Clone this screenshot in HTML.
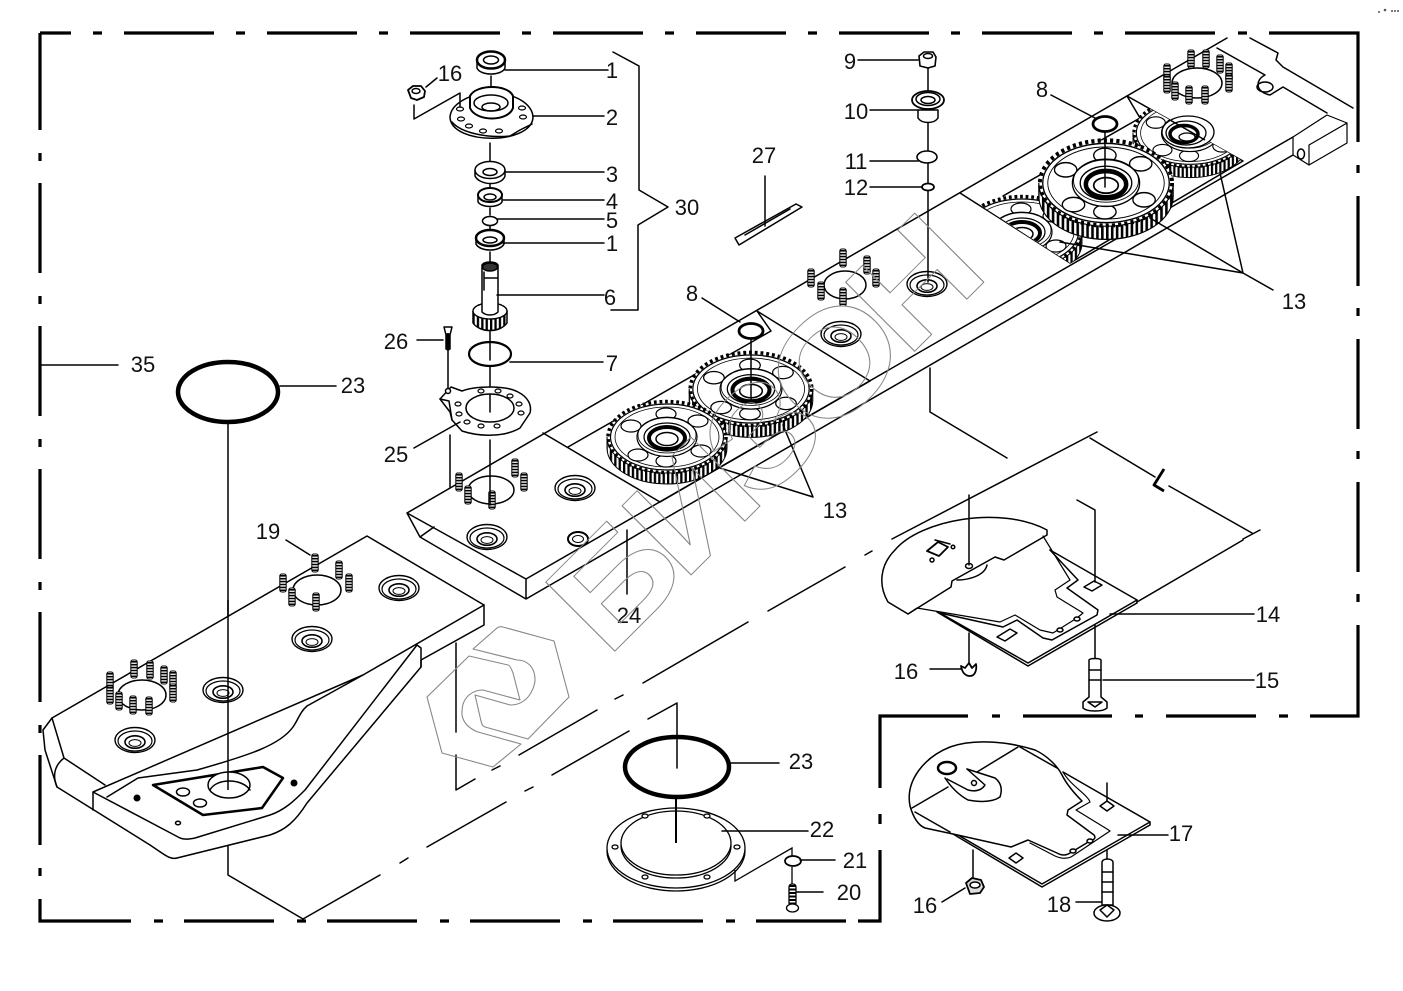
<!DOCTYPE html>
<html><head><meta charset="utf-8"><style>html,body{margin:0;padding:0;background:#fff}svg{display:block}text{font-family:"Liberation Sans",sans-serif;font-size:22px;fill:#111;text-anchor:middle}</style></head><body>
<svg width="1403" height="991" viewBox="0 0 1403 991" xmlns="http://www.w3.org/2000/svg">
<defs>
<pattern id="st" width="4.4" height="10" patternUnits="userSpaceOnUse"><rect width="4.4" height="10" fill="#fff"/><rect width="2.3" height="10" fill="#000"/></pattern>
<g id="s"><rect x="-3.2" y="-9" width="6.4" height="18" rx="2" fill="#fff" stroke="#000"/><line x1="0" y1="-8" x2="0" y2="8" stroke="#000" stroke-width="6" stroke-dasharray="1.6 1.3"/></g>
<g id="b"><ellipse rx="20" ry="12.5" fill="#fff" stroke="#000" stroke-width="1.4"/><ellipse cy="1" rx="17" ry="10" fill="none" stroke="#000" stroke-width="1.2"/><ellipse cy="2" rx="10" ry="6.2" fill="#fff" stroke="#000" stroke-width="1.6"/><ellipse cy="3" rx="6" ry="3.4" fill="#fff" stroke="#000" stroke-width="1"/></g>
<g id="g">
<path d="M-60,0 A60,36 0 0 0 60,0 L60,11 A60,36 0 0 1 -60,11 Z" fill="url(#st)" stroke="#000" stroke-width="1"/>
<ellipse rx="59" ry="35.5" fill="#fff" stroke="#000" stroke-width="3.5" stroke-dasharray="2.8 2.8"/>
<ellipse rx="56.500" ry="33" fill="#fff" stroke="#000" stroke-width="1.2"/>
<ellipse rx="52" ry="30" fill="none" stroke="#000" stroke-width=".8"/>
<ellipse cx="-36" cy="-11" rx="10" ry="6" fill="#fff" stroke="#000" stroke-width="1.2"/><ellipse cx="-1" cy="-23" rx="10" ry="6" fill="#fff" stroke="#000" stroke-width="1.2"/><ellipse cx="31" cy="-16" rx="10" ry="6" fill="#fff" stroke="#000" stroke-width="1.2"/><ellipse cx="34" cy="14" rx="10" ry="6" fill="#fff" stroke="#000" stroke-width="1.2"/><ellipse cx="-1" cy="24" rx="10" ry="6" fill="#fff" stroke="#000" stroke-width="1.2"/><ellipse cx="-29" cy="18" rx="10" ry="6" fill="#fff" stroke="#000" stroke-width="1.2"/>
<ellipse rx="30" ry="19.5" fill="#fff" stroke="#000" stroke-width="1.2"/><ellipse cy="-2" rx="29" ry="18" fill="none" stroke="#000" stroke-width=".8"/>
<ellipse rx="23" ry="14" fill="#fff" stroke="#000" stroke-width="1.2"/><ellipse cy="1" rx="18" ry="11" fill="none" stroke="#000" stroke-width="4"/><ellipse cy="2" rx="11" ry="6.5" fill="#fff" stroke="#000" stroke-width="1.5"/>
</g>
<clipPath id="c4"><polygon points="960,192 1070,263 1090,252 1090,180 1000,180"/></clipPath>
<clipPath id="c5"><polygon points="1127,96 1243,161 1100,245 1100,110"/></clipPath>
</defs>
<rect width="1403" height="991" fill="#fff"/>

<!-- frame -->
<g fill="none" stroke="#000" stroke-width="3.2">
<path d="M40,33H71M93,33H102M124,33H214M236,33H245M267,33H357M379,33H388M410,33H500M522,33H531M553,33H643M665,33H674M696,33H786M808,33H817M839,33H929M951,33H960M982,33H1072M1094,33H1103M1125,33H1215M1238,33H1247M1269,33H1358V142M1358,165V173M1358,196V286M1358,308V316M1358,339V429M1358,451V459M1358,482V572M1358,594V602M1358,625V716H1310M1288,716H1279M1256,716H1166M1143,716H1135M1112,716H1023M1000,716H992M968,716H880V788M880,814V824M880,850V921H858M846,921H756M735,921H726M703,921H613M592,921H583M560,921H470M449,921H440M417,921H327M306,921H297M274,921H184M163,921H154M131,921H40V899M40,876V868M40,845V755M40,733V725M40,702V612M40,590V582M40,559V469M40,447V439M40,416V326M40,304V296M40,273V183M40,161V153M40,130V33"/>
</g>

<g fill="none" stroke="#000" stroke-width="1.5" stroke-linejoin="round" stroke-linecap="round">
<!-- centre lines behind -->
<path d="M303,919L380,875M400,863L408,858M427,847L506,802M525,791L533,787M552,775L629,731M648,719L677,703V768"/>
<path d="M228,422V875L303,919"/>
<path d="M456,643V732M456,755V790L475,779M492,770L500,766M519,755L597,710M615,699L623,695M643,683L748,622M768,611L845,567M865,555L872,551M892,539L1097,432"/>
<path d="M930,368V412L1007,458"/>

<!-- upper beam -->
<path fill="#fff" d="M407,513L1227,38L1250,38L1278,53L1283,67L1353,108V118L1347,123V143L1309,165L1293,155L526,599L420,537Z" stroke="none"/>
<path d="M407,513L1227,38M1250,38L1278,53L1276,60L1283,67L1353,108M1217,48L1265,75C1255,80 1255,92 1270,95L1283,87L1327,113M407,513L420,537L526,599V579L407,513M420,537L434,527M526,579L1293,137M526,599L1293,155"/>
<path d="M1293,137V155L1309,165V145L1347,123V143L1309,165M1293,137L1327,115L1347,123L1309,145" stroke-width="1.2"/>
<ellipse cx="1301" cy="154" rx="3.5" ry="5" />
<ellipse cx="1265" cy="87" rx="8" ry="5"/>
<path d="M543,433L660,502L870,381L757,311L771,331L568,447M960,193L1070,263L1243,161L1127,96L1140,118L1003,196"/>
</g>

<!-- gears -->
<g clip-path="url(#c5)"><use href="#g" transform="translate(1190,133) scale(.95 .95)"/></g>
<g stroke="#000" fill="#fff" stroke-width="1.3">
<ellipse cx="1188" cy="132" rx="26" ry="16"/><ellipse cx="1186" cy="133" rx="20" ry="12" fill="none"/><ellipse cx="1184" cy="134" rx="14" ry="8.500" fill="none" stroke-width="3.500"/><ellipse cx="1187" cy="137" rx="8" ry="4"/>
<line x1="1170" y1="120" x2="1205" y2="140" stroke-width="1.500"/>
</g>
<g clip-path="url(#c4)"><use href="#g" transform="translate(1022,232)"/></g>
<use href="#g" transform="translate(1106,183) scale(1.12 1.2)"/>
<use href="#g" transform="translate(751,389) scale(1.03 1.03)"/>
<use href="#g" transform="translate(667,437)"/>

<!-- bosses + studs on beams -->
<use href="#b" x="575" y="488"/><use href="#b" x="487" y="537"/><use href="#b" x="841" y="334"/><use href="#b" x="927" y="284"/>
<ellipse cx="578" cy="539" rx="10" ry="7" fill="#fff" stroke="#000" stroke-width="2"/><ellipse cx="578" cy="539" rx="5.5" ry="3.5" fill="#fff" stroke="#000"/>
<g fill="#fff" stroke="#000" stroke-width="1.5"><ellipse cx="491" cy="490" rx="23" ry="14"/><ellipse cx="845" cy="285" rx="21" ry="14"/><ellipse cx="1197" cy="83" rx="25" ry="15"/></g>
<use href="#s" x="459" y="482"/><use href="#s" x="468" y="495"/><use href="#s" x="492" y="500"/><use href="#s" x="515" y="468"/><use href="#s" x="524" y="482"/>
<use href="#s" x="843" y="258"/><use href="#s" x="867" y="265"/><use href="#s" x="876" y="278"/><use href="#s" x="811" y="278"/><use href="#s" x="821" y="291"/><use href="#s" x="843" y="297"/>
<use href="#s" x="1191" y="59"/><use href="#s" x="1206" y="59"/><use href="#s" x="1220" y="64"/><use href="#s" x="1229" y="72"/><use href="#s" x="1229" y="83"/><use href="#s" x="1167" y="73"/><use href="#s" x="1167" y="84"/><use href="#s" x="1175" y="91"/><use href="#s" x="1189" y="95"/><use href="#s" x="1205" y="95"/>

<!-- lower-left beam -->
<g fill="none" stroke="#000" stroke-width="1.5" stroke-linejoin="round" stroke-linecap="round">
<path fill="#fff" d="M367,536L484,605V625L421,660V667L307,803C295,822 285,830 270,835L177,858C170,860 165,855 150,845L57,787L45,750L43,730L52,718Z"/>
<path d="M52,718L64,758L105,785M64,758C55,765 52,775 57,787M484,605L363,675L93,792M363,675L307,706C300,712 298,720 293,727C280,745 250,755 197,770L138,778L107,797M93,792V810M93,792L180,838C185,840 190,839 195,838L270,815C285,810 295,800 305,790L417,645L421,648V667"/>
<path stroke-width="2.5" d="M153,785L263,767L283,778L262,808L203,815Z"/>
<ellipse cx="229" cy="785" rx="21" ry="13" fill="#fff"/>
<path d="M210,790C216,778 242,778 250,790"/>
<ellipse cx="183" cy="792" rx="6.5" ry="4"/><ellipse cx="200" cy="803" rx="6.5" ry="4"/>
<ellipse cx="178" cy="823" rx="2.5" ry="1.8"/>
<ellipse cx="317" cy="590" rx="24" ry="15" fill="#fff"/><ellipse cx="142" cy="695" rx="24" ry="15" fill="#fff"/>
</g>
<circle cx="137" cy="798" r="3.5"/><circle cx="294" cy="783" r="3.5"/>
<use href="#b" x="399" y="588"/><use href="#b" x="312" y="639"/><use href="#b" x="223" y="690"/><use href="#b" x="135" y="740"/>
<line x1="228" y1="600" x2="228" y2="790" stroke="#000" stroke-width="1.5"/>
<use href="#s" x="315" y="563"/><use href="#s" x="339" y="570"/><use href="#s" x="349" y="583"/><use href="#s" x="283" y="583"/><use href="#s" x="292" y="597"/><use href="#s" x="316" y="602"/>
<use href="#s" x="134" y="669"/><use href="#s" x="150" y="670"/><use href="#s" x="164" y="675"/><use href="#s" x="173" y="680"/><use href="#s" x="173" y="693"/><use href="#s" x="110" y="681"/><use href="#s" x="110" y="695"/><use href="#s" x="119" y="701"/><use href="#s" x="133" y="705"/><use href="#s" x="149" y="706"/>

<!-- exploded column -->
<g fill="#fff" stroke="#000" stroke-width="1.5" stroke-linecap="round" stroke-linejoin="round">
<path d="M491,76V108M490,143V165M490,183V192M490,208V215M490,226V235M490,252V262M490,330V360M490,367V412M490,440V505M448,350V390M450,435V487M928,68V90M928,122V150M928,164V183M928,191V282M1105,132V187M751,340V400"/>
<!-- 1 -->
<path d="M477,60V68C480,76 502,76 505,68V60Z"/><ellipse cx="491" cy="60" rx="14" ry="8.5" stroke-width="2.5"/><ellipse cx="491" cy="60" rx="7.5" ry="4"/>
<!-- 2 -->
<path d="M450,118C453,145 530,145 533,118C533,104 515,93 492,93C470,93 450,104 450,118Z"/><path fill="none" d="M452,122C462,134 490,138 510,136L520,130L532,124"/>
<path d="M470,96V108C476,122 508,122 513,108V96C508,84 476,84 470,96Z" stroke-width="2"/><ellipse cx="491" cy="103" rx="17" ry="8"/><ellipse cx="491" cy="107" rx="9" ry="4" fill="none"/>
<g stroke-width="1.2"><ellipse cx="460" cy="109" rx="3.5" ry="2"/><ellipse cx="461" cy="119" rx="3.5" ry="2"/><ellipse cx="469" cy="126" rx="3.5" ry="2"/><ellipse cx="483" cy="131" rx="3.5" ry="2"/><ellipse cx="499" cy="131" rx="3.5" ry="2"/><ellipse cx="522" cy="108" rx="3.5" ry="2"/><ellipse cx="523" cy="117" rx="3.5" ry="2"/></g>
<!-- 3,4,5,1 -->
<path d="M475,170V176C480,186 502,186 505,176V170Z"/><ellipse cx="490" cy="170" rx="15" ry="8.5"/><ellipse cx="490" cy="172" rx="7" ry="3.5"/>
<path d="M478,196V202C482,208 498,208 502,202V196Z"/><ellipse cx="490" cy="195" rx="12" ry="7" stroke-width="2"/><ellipse cx="490" cy="197" rx="6" ry="3"/>
<ellipse cx="490" cy="221" rx="7.5" ry="4.5"/>
<path d="M476,238V244C480,252 500,252 504,244V238Z"/><ellipse cx="490" cy="238" rx="14" ry="8" stroke-width="2.5"/><ellipse cx="490" cy="240" rx="7" ry="3"/>
<!-- 6 -->
<g transform="translate(490,317)"><path d="M-17,-6V6C-10,16 10,16 17,6V-6Z" fill="url(#st)"/><ellipse cy="-6" rx="17" ry="8" stroke-dasharray="2 1.2"/></g>
<path d="M482,265V312C486,316 494,316 498,312V265C496,261 484,261 482,265Z"/><ellipse cx="490" cy="267" rx="7.5" ry="4" fill="#333"/><path d="M484,272V290M484,278H497" fill="none"/>
<!-- 7 -->
<ellipse cx="490" cy="354" rx="21" ry="12" fill="none" stroke-width="2.2"/>
<!-- 26 -->
<path d="M444,327H452L450,335V349H446V335Z"/><line x1="448" y1="335" x2="448" y2="349" stroke-width="4" stroke-dasharray="1.6 1.4"/>
<!-- 25 -->
<path d="M440,399L451,387L462,391C475,386 505,385 518,392C528,397 532,405 530,413L520,428C505,437 480,437 462,431L452,420L450,412Z"/>
<path d="M440,399L449,401L452,420" fill="none"/><circle cx="448" cy="391" r="2.5"/>
<ellipse cx="490" cy="408" rx="24" ry="14"/>
<g stroke-width="1.2"><ellipse cx="458" cy="404" rx="3" ry="2"/><ellipse cx="459" cy="414" rx="3" ry="2"/><ellipse cx="467" cy="422" rx="3" ry="2"/><ellipse cx="481" cy="426" rx="3" ry="2"/><ellipse cx="497" cy="426" rx="3" ry="2"/><ellipse cx="481" cy="391" rx="3" ry="2"/><ellipse cx="498" cy="391" rx="3" ry="2"/><ellipse cx="510" cy="396" rx="3" ry="2"/><ellipse cx="519" cy="404" rx="3" ry="2"/><ellipse cx="521" cy="413" rx="3" ry="2"/></g>
<line x1="490" y1="395" x2="490" y2="412"/>
<!-- 16 nut, bracket -->
<polygon points="408,90 413,86 421,86 425,91 424,97 417,100 411,98" stroke-width="1.8"/><ellipse cx="416" cy="91" rx="4" ry="2.5"/>
<path d="M414,105V119L460,93V107" fill="none"/>
<!-- 8 rings -->
<ellipse cx="751" cy="331" rx="12" ry="7.5" stroke-width="2.8"/><ellipse cx="1105" cy="124" rx="12" ry="7.5" stroke-width="2.8"/>
<!-- 9..12 -->
<polygon points="919,56 924,52 933,52 936,57 935,66 928,68 920,66" stroke-width="1.6"/><ellipse cx="928" cy="56" rx="4.5" ry="2.5"/>
<path d="M918,110V118C922,124 934,124 938,118V110Z"/><ellipse cx="928" cy="100" rx="16" ry="9" stroke-width="1.8"/><ellipse cx="928" cy="99" rx="12" ry="6.5"/><ellipse cx="928" cy="100" rx="7" ry="3.5"/>
<ellipse cx="927" cy="157" rx="10" ry="6" stroke-width="1.6"/><ellipse cx="928" cy="187" rx="6" ry="3.5" stroke-width="1.8"/>
<!-- 27 -->
<path d="M735,238L796,204L802,207L739,245Z"/><path d="M745,235L790,209" fill="none"/><line x1="765" y1="176" x2="765" y2="226"/>
</g>

<!-- rings 23 -->
<ellipse cx="228" cy="392" rx="50" ry="30" fill="none" stroke="#000" stroke-width="4.5"/>
<ellipse cx="677" cy="767" rx="52" ry="30" fill="none" stroke="#000" stroke-width="4.5"/>

<!-- ring 22 -->
<g fill="#fff" stroke="#000" stroke-width="1.3">
<ellipse cx="676" cy="851" rx="69" ry="40"/><ellipse cx="676" cy="848" rx="69" ry="40"/>
<ellipse cx="676" cy="846" rx="55" ry="32"/><ellipse cx="676" cy="843" rx="55" ry="32"/>
<ellipse cx="615" cy="847" rx="3" ry="2"/><ellipse cx="737" cy="847" rx="3" ry="2"/><ellipse cx="645" cy="816" rx="3" ry="2"/><ellipse cx="707" cy="816" rx="3" ry="2"/><ellipse cx="645" cy="877" rx="3" ry="2"/><ellipse cx="707" cy="877" rx="3" ry="2"/>
<line x1="676" y1="798" x2="676" y2="843" stroke-width="2"/>
<path d="M735,870V881L792,848V857" fill="none"/>
<ellipse cx="793" cy="861" rx="8" ry="5" stroke-width="1.8"/>
<line x1="792" y1="867" x2="792" y2="884"/>
<rect x="789" y="884" width="7" height="22" rx="3"/><line x1="792.500" y1="885" x2="792.500" y2="905" stroke-width="6" stroke-dasharray="2 1.5"/>
<ellipse cx="792.500" cy="908" rx="6" ry="4"/>
</g>

<!-- plate 14 -->
<g fill="#fff" stroke="#000" stroke-width="1.5" stroke-linejoin="round" stroke-linecap="round">
<path d="M1050,550L1137,600V603L1028,666L937,612"/>
<path fill="none" d="M1137,600L1028,663L940,613"/>
<path d="M908,614L888,602C878,585 880,565 895,550C920,520 1000,505 1047,530V535L1004,560L995,557L952,581L951,587Z"/>
<path fill="none" d="M1050,550L1078,580L1067,588L1098,610L1097,615L1052,640L1043,638L1017,620L1003,627L940,613"/>
<path fill="none" d="M1043,536L1070,580L1055,590L1057,597L1083,613L1077,618L1053,633L1040,630L1015,615L1000,622L917,608L908,614" stroke-width="1.2"/>
<path fill="none" d="M957,580C970,580 985,575 987,565"/>
<path d="M927,551L938,542L948,547L939,556Z" stroke-width="1.8"/><path fill="none" d="M935,540L950,544"/>
<circle cx="953" cy="547" r="1.800"/><circle cx="932" cy="560" r="2"/>
<path d="M1084,587L1094,581L1102,585L1092,591Z"/><path d="M997,637L1010,629L1017,633L1005,641Z"/>
<ellipse cx="969" cy="566" rx="3.500" ry="2.500"/>
<ellipse cx="1060" cy="630" rx="3" ry="2"/><ellipse cx="1077" cy="619" rx="3" ry="2"/>
<path fill="none" d="M969,495V565M969,633V663M1095,625V660M1077,500L1095,510V582"/>
<path d="M1089,660V697L1083,702V708C1087,712 1103,712 1107,708V702L1101,697V660C1100,658 1090,658 1089,660Z"/><path fill="none" d="M1088,702H1102L1095,707ZM1089,670H1101M1089,680H1101"/>
<path d="M961,666C962,672 965,676 970,676C975,676 977,670 976,664L972,668L969,663L965,668Z" stroke-width="1.800"/>
</g>

<!-- plate 17 -->
<g fill="#fff" stroke="#000" stroke-width="1.5" stroke-linejoin="round" stroke-linecap="round">
<path d="M1063,772L1150,822V825L1042,887L953,834"/>
<path fill="none" d="M1150,822L1042,884L953,832"/>
<path d="M910,806C905,780 925,757 950,747C975,738 1010,742 1035,750C1048,756 1058,767 1062,775C1068,787 1078,797 1082,801L1068,810L1067,815L1094,835Q1097,839 1090,841L1070,853Q1064,857 1057,853L1028,840L1011,847L953,834L925,828C920,826 914,820 910,806Z"/>
<path fill="none" d="M1063,772C1070,785 1088,795 1090,802L1076,810L1107,829L1110,831L1071,857Q1064,860 1055,856L1030,843" stroke-width="1.2"/>
<path fill="none" d="M912,808L948,787M977,772L1018,747M1020,747L1057,768M915,812L950,832M1118,835H1168M1107,783V805M1107,850V860M973,850V877M942,902L965,888M1076,902H1102"/>
<path d="M945,778Q955,793 968,800Q990,804 1000,797Q1004,785 995,778L967,769"/><path fill="none" d="M947,779L968,790Q980,793 985,785L967,769"/>
<ellipse cx="947" cy="768" rx="9" ry="6" stroke-width="2.500"/><circle cx="974" cy="783" r="2.500"/>
<path d="M1100,806L1107,801L1114,806L1107,811Z"/><path d="M1009,858L1016,853L1023,858L1016,863Z"/>
<ellipse cx="1073" cy="851" rx="3" ry="2"/><ellipse cx="1090" cy="841" rx="3" ry="2"/>
<path d="M1102,862V905H1113V862C1112,858 1103,858 1102,862Z"/><path fill="none" d="M1102,872H1113M1102,882H1113M1102,892H1113"/>
<ellipse cx="1107" cy="913" rx="13" ry="8"/><path fill="none" d="M1100,910L1107,905L1114,910L1107,917Z"/>
<polygon points="966,883 972,878 981,880 984,887 980,893 970,894" stroke-width="1.800" fill="#ddd"/><ellipse cx="975" cy="885" rx="5" ry="3"/>
</g>

<!-- leaders -->
<g fill="none" stroke="#000" stroke-width="1.5" stroke-linecap="round" stroke-linejoin="round">
<path d="M505,70H608M533,116H604M505,172H604M503,200H604M497,219H604M503,243H604M497,295H604M510,362H603M613,52L639,66V190L668,207L638,225V310H611"/>
<path d="M437,78L426,87M417,340H443M414,448L460,422M42,365H118M280,386H336M730,763H779M722,831H808M800,860H835M797,892H823"/>
<path d="M858,60H918M870,110H918M870,161H918M870,187H922M1051,95L1095,118M702,298L740,322M286,540L310,555M627,530V594"/>
<path d="M720,468L813,497M783,425L813,497M1060,242L1243,273M1150,218L1243,273M1220,173L1243,273M1243,273L1273,290"/>
<path d="M930,669H962M1110,614H1254M1103,680H1254"/>
<path d="M1090,438L1155,477M1169,486L1252,533M1243,539L1260,530M1137,602L1243,540"/>
<path d="M1164,469L1154,485L1164,491" stroke-width="2.800" stroke-linecap="butt"/>
</g>

<!-- labels -->
<text x="450" y="81">16</text><text x="612" y="78">1</text><text x="612" y="125">2</text><text x="612" y="182">3</text><text x="612" y="209">4</text><text x="612" y="228">5</text><text x="612" y="251">1</text><text x="610" y="305">6</text><text x="612" y="371">7</text><text x="687" y="215">30</text>
<text x="396" y="349">26</text><text x="396" y="462">25</text><text x="143" y="372">35</text><text x="353" y="393">23</text><text x="268" y="539">19</text><text x="629" y="623">24</text>
<text x="850" y="69">9</text><text x="856" y="119">10</text><text x="856" y="169">11</text><text x="856" y="195">12</text><text x="764" y="163">27</text><text x="1042" y="97">8</text><text x="692" y="301">8</text><text x="835" y="518">13</text><text x="1294" y="309">13</text>
<text x="1268" y="622">14</text><text x="1267" y="688">15</text><text x="906" y="679">16</text><text x="1181" y="841">17</text><text x="1059" y="912">18</text><text x="925" y="913">16</text>
<text x="801" y="769">23</text><text x="822" y="837">22</text><text x="855" y="868">21</text><text x="849" y="900">20</text>

<!-- watermark -->
<g fill="none" stroke="#888" stroke-width="1.1" stroke-linejoin="round">
<path d="M473,649L497,628Q500,626 503,627L554,641L569,697L528,739L485,727Q482,726 481,721L475,695L510,705C530,705 535,685 535,680C535,665 525,660 517,660Z"/>
<path d="M469,656L427,697L442,753L493,767L521,744L478,732C460,725 462,712 462,712C462,695 475,690 483,690L520,700L513,673Q510,665 508,665Z"/>
<text x="0" y="0" transform="translate(607,659) rotate(-45) scale(1.17 1)" textLength="465" lengthAdjust="spacing" style="font-size:142px;font-weight:bold;fill:none;stroke:#888;stroke-width:1px;text-anchor:start;font-family:'Liberation Sans','DejaVu Sans',sans-serif">БИЗОН</text>
</g>
<g fill="#555"><circle cx="1379" cy="12" r="1"/><circle cx="1385" cy="10" r="1.300"/><circle cx="1392" cy="11" r="1"/><circle cx="1395" cy="11" r="1"/><circle cx="1398" cy="11" r="1"/></g>
</svg>
</body></html>
